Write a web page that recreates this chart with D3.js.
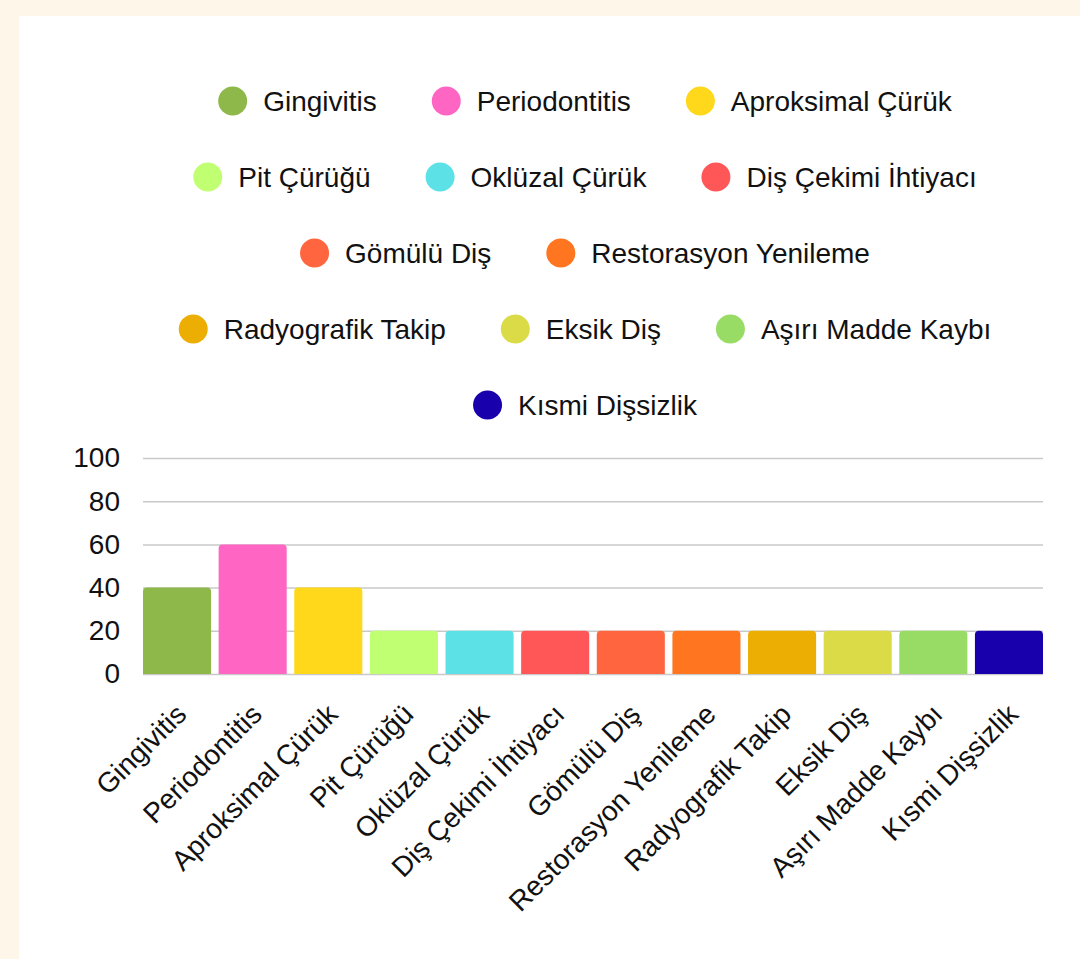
<!DOCTYPE html>
<html>
<head>
<meta charset="utf-8">
<script src="https://cdn.jsdelivr.net/npm/d3@7"></script>
<style>
  html, body { margin: 0; padding: 0; background: #fdf6e9; }
  svg { display: block; }
  text { font-family: "Liberation Sans", Arial, sans-serif; fill: #111; }
</style>
</head>
<body>
<div id="chart"></div>
<script>
const categories = ["Gingivitis", "Periodontitis", "Aproksimal Çürük", "Pit Çürüğü", "Oklüzal Çürük",
  "Diş Çekimi İhtiyacı", "Gömülü Diş", "Restorasyon Yenileme", "Radyografik Takip", "Eksik Diş",
  "Aşırı Madde Kaybı", "Kısmi Dişsizlik"];
const values = [40, 60, 40, 20, 20, 20, 20, 20, 20, 20, 20, 20];
const colors = ["#8fb84a", "#ff66c4", "#ffd71b", "#c1ff72", "#5ce1e6", "#ff5757",
  "#ff653f", "#ff7520", "#ecae02", "#dadb46", "#98dc65", "#1800ad"];
const yTicks = [0, 20, 40, 60, 80, 100];

const W = 1080, H = 959;
const margin = {top: 458, right: 37, bottom: 285, left: 143};
const width = W - margin.left - margin.right;
const height = H - margin.top - margin.bottom;

const svg = d3.select("#chart").append("svg")
  .attr("width", W)
  .attr("height", H);

// white card
svg.append("rect")
  .attr("x", 19).attr("y", 16)
  .attr("width", W).attr("height", H)
  .attr("fill", "#fff");

// legend
const legend = svg.append("g");
const items = legend.selectAll("g").data(categories).enter().append("g");
items.append("circle").attr("r", 14.5).attr("cx", 14.5).attr("fill", (d, i) => colors[i]);
items.append("text").attr("x", 45).attr("dy", "0.35em")
  .style("font-size", "28px").text(d => d);

let rows = [], row = [], rowW = 0;
items.each(function(d, i) {
  const w = 45 + this.querySelector("text").getComputedTextLength();
  const add = row.length ? 55 + w : w;
  if (rowW + add > 850 && row.length) {
    rows.push({nodes: row, w: rowW});
    row = [];
    rowW = w;
  } else {
    rowW += add;
  }
  row.push({node: this, w: w});
});
rows.push({nodes: row, w: rowW});

rows.forEach(function(r, ri) {
  let x = 585 - r.w / 2;
  r.nodes.forEach(function(n) {
    d3.select(n.node).attr("transform", "translate(" + x + "," + (101 + ri * 76) + ")");
    x += n.w + 55;
  });
});

const g = svg.append("g")
  .attr("transform", "translate(" + margin.left + "," + margin.top + ")");

const x = d3.scaleBand()
  .domain(categories)
  .range([0, width])
  .paddingInner(0.1)
  .paddingOuter(0);

const y = d3.scaleLinear()
  .domain([0, 100])
  .range([height, 0]);

// grid
g.append("g")
  .call(d3.axisLeft(y).tickValues(yTicks).tickSize(-width).tickFormat(""))
  .call(a => a.select(".domain").remove())
  .call(a => a.selectAll("line").attr("stroke", "#c9c9c9").attr("stroke-width", 1.5));

// y labels
g.append("g")
  .call(d3.axisLeft(y).tickValues(yTicks).tickSize(0).tickPadding(23))
  .call(a => a.select(".domain").remove())
  .call(a => a.selectAll("text").style("font-size", "28px").attr("fill", "#111"));

// bars with rounded tops
const r = 4;
g.selectAll(".bar").data(values).enter().append("path")
  .attr("class", "bar")
  .attr("fill", (d, i) => colors[i])
  .attr("d", function(d, i) {
    const x0 = x(categories[i]), x1 = x0 + x.bandwidth();
    const y0 = y(d), yb = y(0);
    return "M" + x0 + "," + yb + "V" + (y0 + r) + "Q" + x0 + "," + y0 + " " + (x0 + r) + "," + y0 +
      "H" + (x1 - r) + "Q" + x1 + "," + y0 + " " + x1 + "," + (y0 + r) + "V" + yb + "Z";
  });

// x labels
g.append("g")
  .attr("transform", "translate(0," + height + ")")
  .call(d3.axisBottom(x).tickSize(0).tickPadding(0))
  .call(a => a.select(".domain").remove())
  .call(a => a.selectAll("text")
    .style("font-size", "28px")
    .attr("fill", "#111")
    .attr("text-anchor", "end")
    .attr("dy", 0)
    .attr("y", 0)
    .attr("transform", "translate(11,42) rotate(-45)"));
</script>
</body>
</html>
